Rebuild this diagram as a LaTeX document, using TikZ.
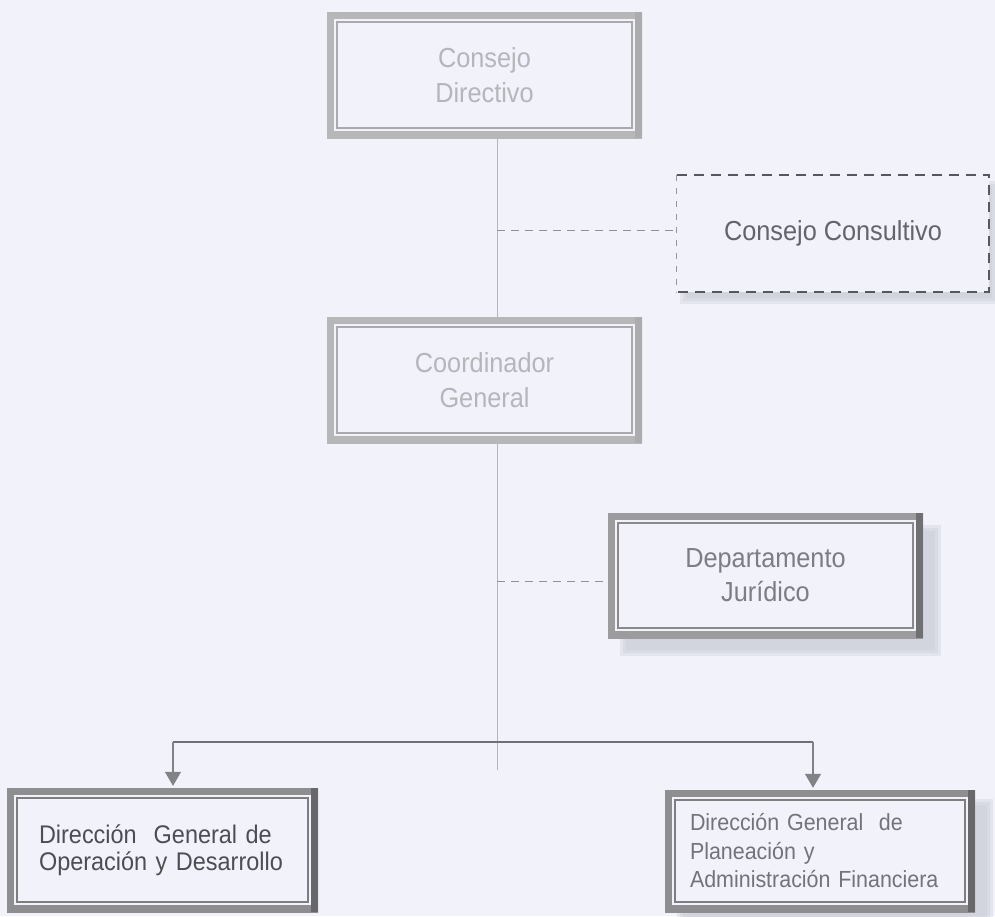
\documentclass[tikz,border=0pt]{standalone}
\usepackage{fontspec}
\setmainfont[FakeStretch=0.92]{Liberation Sans}
\usetikzlibrary{arrows.meta,backgrounds,calc}
\definecolor{bgc}{RGB}{241,242,250}
\definecolor{shadowc}{RGB}{200,202,212}
\definecolor{lightband}{RGB}{183,183,186}
\definecolor{lightinner}{RGB}{170,170,174}
\definecolor{lightright}{RGB}{172,172,175}
\definecolor{midband}{RGB}{156,156,158}
\definecolor{midinner}{RGB}{138,138,140}
\definecolor{midright}{RGB}{112,112,114}
\definecolor{darkband}{RGB}{142,142,144}
\definecolor{darkinner}{RGB}{126,126,128}
\definecolor{darkright}{RGB}{104,104,106}
\definecolor{txtpale}{RGB}{182,182,186}
\definecolor{txtcc}{RGB}{100,100,106}
\definecolor{txtdj}{RGB}{125,125,130}
\definecolor{txtdgo}{RGB}{78,78,82}
\definecolor{txtdgp}{RGB}{115,115,120}
\definecolor{spinecol}{RGB}{182,182,186}
\definecolor{barcol}{RGB}{112,112,118}
\definecolor{arrowcol}{RGB}{130,130,134}
\definecolor{dashcol}{RGB}{145,145,150}
\definecolor{ccthickcol}{RGB}{85,88,94}
\definecolor{ccthincol}{RGB}{150,150,156}
\newcommand\softshadow[3]{%
  \foreach \s in {-3,0,3}{%
    \fill[shadowc, opacity=0.34] ([shift={(#2+\s,#3+\s)}]#1.north west) rectangle ([shift={(#2-\s,#3-\s)}]#1.south east);
  }}
\tikzset{
  box/.style={draw=none, fill=bgc, inner sep=0pt},
  dbl/.style n args={3}{path picture={
    \draw[draw=#1, line width=14pt] (path picture bounding box.north west) rectangle (path picture bounding box.south east);
    \fill[#3] (path picture bounding box.north east) rectangle ([xshift=-7pt]path picture bounding box.south east);
    \draw[draw=#2, line width=1.1pt] ([shift={(10,10)}]path picture bounding box.north west) rectangle ([shift={(-10,-10)}]path picture bounding box.south east);
  }},
  spineline/.style={draw=spinecol, line width=0.9pt},
  dashline/.style={draw=dashcol, line width=0.9pt, dash pattern=on 8pt off 6pt},
  barline/.style={draw=barcol, line width=1.6pt},
  downarrow/.style={draw=arrowcol, line width=1.3pt, -{Triangle[width=16pt,length=14pt,fill=arrowcol]}, shorten >=2pt},
  ccthin/.style={draw=ccthincol, line width=0.8pt, dash pattern=on 6pt off 7pt},
  ccthick/.style={draw=ccthickcol, line width=1.8pt, dash pattern=on 10pt off 7pt},
}
\begin{document}
\begin{tikzpicture}[x=1pt,y=-1pt]
\begin{scope}[on background layer]
  \fill[bgc] (0,0) rectangle (995,916);
\end{scope}
\path[use as bounding box] (0,0) rectangle (995,916);

% boxes
\node[box, dbl={lightband}{lightinner}{lightright}, minimum width=315pt, minimum height=126pt,
      text=txtpale, font=\fontsize{27.5pt}{35pt}\selectfont, align=center]
  (cd) at (484.5,75) {Consejo\\Directivo};
\node[box, minimum width=312pt, minimum height=117pt,
      text=txtcc, font=\fontsize{27.5pt}{32pt}\selectfont, align=center]
  (cc) at (833,233.5) {Consejo Consultivo};
\node[box, dbl={lightband}{lightinner}{lightright}, minimum width=315pt, minimum height=126pt,
      text=txtpale, font=\fontsize{27.5pt}{35pt}\selectfont, align=center]
  (cg) at (484.5,380) {Coordinador\\General};
\node[box, dbl={midband}{midinner}{midright}, minimum width=315pt, minimum height=125pt,
      text=txtdj, font=\fontsize{27.5pt}{34pt}\selectfont, align=center]
  (dj) at (765.5,575.5) {Departamento\\Jurídico};
\node[box, dbl={darkband}{darkinner}{darkright}, minimum width=311pt, minimum height=124pt,
      text=txtdgo, font=\fontsize{25.5pt}{27pt}\selectfont, align=left, text width=247pt, inner xsep=32pt]
  (dgo) at (162.5,850) {Dirección~~General~de\\Operación~y~Desarrollo};
\node[box, dbl={darkband}{darkinner}{darkright}, minimum width=310pt, minimum height=122pt,
      text=txtdgp, font=\fontsize{23.3pt}{28.5pt}\selectfont, align=left, text width=260pt, inner xsep=25pt]
  (dgp) at (820,851) {Dirección~General~~de\\Planeación~y\\Administración~Financiera};

% shadows
\begin{scope}[on background layer]
  \softshadow{dj}{15}{15}
  \softshadow{dgp}{15}{12}
  \softshadow{cc}{6}{9}
\end{scope}

% dashed box of Consejo Consultivo
\draw[ccthin] (cc.north west) -- (cc.south west);
\draw[ccthick] (cc.north west) -- (cc.north east) -- (cc.south east) -- (cc.south west);

% spine
\coordinate (spine) at (497,770);
\draw[spineline] (cd.south -| spine) -- (cg.north -| spine);
\draw[spineline] (cg.south -| spine) -- (spine);

% dashed staff connectors
\coordinate (ccc) at ([yshift=3pt]cc.west);
\coordinate (djc) at ([yshift=-6pt]dj.west);
\draw[dashline] (spine |- ccc) -- (ccc);
\draw[dashline] (spine |- djc) -- (djc);

% distribution bar and arrows
\coordinate (la) at (173,742);
\coordinate (ra) at (813,742);
\draw[barline] (la) -- (ra);
\draw[downarrow] (la) -- (la |- dgo.north);
\draw[downarrow] (ra) -- (ra |- dgp.north);
\end{tikzpicture}
\end{document}
